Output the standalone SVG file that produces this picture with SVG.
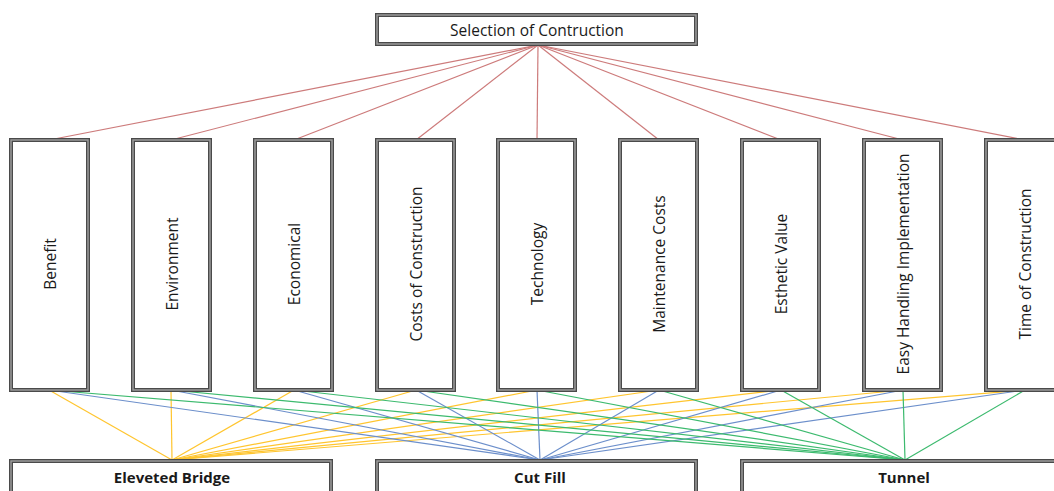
<svg xmlns="http://www.w3.org/2000/svg" width="1054" height="491" viewBox="0 0 1054 491">
<defs>
<style>
.box{fill:#fff;stroke:#4a4a4a;stroke-width:4}
.inner{fill:none;stroke:#a0a0a0;stroke-width:1.4}
.t{font-family:"Open Sans","Liberation Sans",Arial,sans-serif;font-size:15.5px;fill:#1a1a1a;text-anchor:middle;dominant-baseline:central}
.b{font-family:"Open Sans","Liberation Sans",Arial,sans-serif;font-size:15px;font-weight:bold;fill:#1a1a1a;text-anchor:middle;dominant-baseline:central}
.r{stroke:#cd7b7b;stroke-width:1.2;fill:none}
.y{stroke:#ffc52e;stroke-width:1.2;fill:none}
.bl{stroke:#6c8fcb;stroke-width:1.2;fill:none}
.g{stroke:#3cba6e;stroke-width:1.2;fill:none}
</style>
</defs>
<rect width="1054" height="491" fill="#fff"/>
<g id="connectors">
<g id="top-links">
<line class="r" x1="538" y1="45" x2="49" y2="140"/>
<line class="r" x1="538" y1="45" x2="171" y2="140"/>
<line class="r" x1="538" y1="45" x2="294" y2="140"/>
<line class="r" x1="538" y1="45" x2="416" y2="140"/>
<line class="r" x1="538" y1="45" x2="537" y2="140"/>
<line class="r" x1="538" y1="45" x2="659" y2="140"/>
<line class="r" x1="538" y1="45" x2="781" y2="140"/>
<line class="r" x1="538" y1="45" x2="903" y2="140"/>
<line class="r" x1="538" y1="45" x2="1025" y2="140"/>
</g>
<g id="bridge-links">
<line class="y" x1="49" y1="390" x2="172" y2="460"/>
<line class="y" x1="171" y1="390" x2="172" y2="460"/>
<line class="y" x1="294" y1="390" x2="172" y2="460"/>
<line class="y" x1="416" y1="390" x2="172" y2="460"/>
<line class="y" x1="537" y1="390" x2="172" y2="460"/>
<line class="y" x1="659" y1="390" x2="172" y2="460"/>
<line class="y" x1="781" y1="390" x2="172" y2="460"/>
<line class="y" x1="903" y1="390" x2="172" y2="460"/>
<line class="y" x1="1025" y1="390" x2="172" y2="460"/>
</g>
<g id="cutfill-links">
<line class="bl" x1="49" y1="390" x2="540" y2="460"/>
<line class="bl" x1="171" y1="390" x2="540" y2="460"/>
<line class="bl" x1="294" y1="390" x2="540" y2="460"/>
<line class="bl" x1="416" y1="390" x2="540" y2="460"/>
<line class="bl" x1="537" y1="390" x2="540" y2="460"/>
<line class="bl" x1="659" y1="390" x2="540" y2="460"/>
<line class="bl" x1="781" y1="390" x2="540" y2="460"/>
<line class="bl" x1="903" y1="390" x2="540" y2="460"/>
<line class="bl" x1="1025" y1="390" x2="540" y2="460"/>
</g>
<g id="tunnel-links">
<line class="g" x1="49" y1="390" x2="905" y2="460"/>
<line class="g" x1="171" y1="390" x2="905" y2="460"/>
<line class="g" x1="294" y1="390" x2="905" y2="460"/>
<line class="g" x1="416" y1="390" x2="905" y2="460"/>
<line class="g" x1="537" y1="390" x2="905" y2="460"/>
<line class="g" x1="659" y1="390" x2="905" y2="460"/>
<line class="g" x1="781" y1="390" x2="905" y2="460"/>
<line class="g" x1="903" y1="390" x2="905" y2="460"/>
<line class="g" x1="1025" y1="390" x2="905" y2="460"/>
</g>
</g>
<g id="selection">
<rect class="box" x="377" y="15" width="319" height="29"/><rect class="inner" x="377" y="15" width="319" height="29"/>
<text class="t" x="537" y="30">Selection of Contruction</text>
</g>
<g id="benefit">
<rect class="box" x="11" y="140" width="77" height="250"/><rect class="inner" x="11" y="140" width="77" height="250"/>
<text class="t" transform="translate(50,264) rotate(-90)">Benefit</text>
</g>
<g id="environment">
<rect class="box" x="133" y="140" width="77" height="250"/><rect class="inner" x="133" y="140" width="77" height="250"/>
<text class="t" transform="translate(172,264) rotate(-90)">Environment</text>
</g>
<g id="economical">
<rect class="box" x="255" y="140" width="77" height="250"/><rect class="inner" x="255" y="140" width="77" height="250"/>
<text class="t" transform="translate(294,264) rotate(-90)">Economical</text>
</g>
<g id="costs-construction">
<rect class="box" x="377" y="140" width="77" height="250"/><rect class="inner" x="377" y="140" width="77" height="250"/>
<text class="t" transform="translate(416,264) rotate(-90)">Costs of Construction</text>
</g>
<g id="technology">
<rect class="box" x="498" y="140" width="77" height="250"/><rect class="inner" x="498" y="140" width="77" height="250"/>
<text class="t" transform="translate(537,264) rotate(-90)">Technology</text>
</g>
<g id="maintenance">
<rect class="box" x="620" y="140" width="77" height="250"/><rect class="inner" x="620" y="140" width="77" height="250"/>
<text class="t" transform="translate(659,264) rotate(-90)">Maintenance Costs</text>
</g>
<g id="esthetic">
<rect class="box" x="742" y="140" width="77" height="250"/><rect class="inner" x="742" y="140" width="77" height="250"/>
<text class="t" transform="translate(781,264) rotate(-90)">Esthetic Value</text>
</g>
<g id="easy-handling">
<rect class="box" x="864" y="140" width="77" height="250"/><rect class="inner" x="864" y="140" width="77" height="250"/>
<text class="t" transform="translate(903,264) rotate(-90)">Easy Handling Implementation</text>
</g>
<g id="time-construction">
<rect class="box" x="986" y="140" width="77" height="250"/><rect class="inner" x="986" y="140" width="77" height="250"/>
<text class="t" transform="translate(1025,264) rotate(-90)">Time of Construction</text>
</g>
<g id="bridge">
<rect class="box" x="11" y="461" width="320" height="33"/><rect class="inner" x="11" y="461" width="320" height="33"/>
<text class="b" x="172" y="477">Eleveted Bridge</text>
</g>
<g id="cutfill">
<rect class="box" x="377" y="461" width="319" height="33"/><rect class="inner" x="377" y="461" width="319" height="33"/>
<text class="b" x="540" y="477">Cut Fill</text>
</g>
<g id="tunnel">
<rect class="box" x="742" y="461" width="322" height="33"/><rect class="inner" x="742" y="461" width="322" height="33"/>
<text class="b" x="904" y="477">Tunnel</text>
</g>
</svg>
